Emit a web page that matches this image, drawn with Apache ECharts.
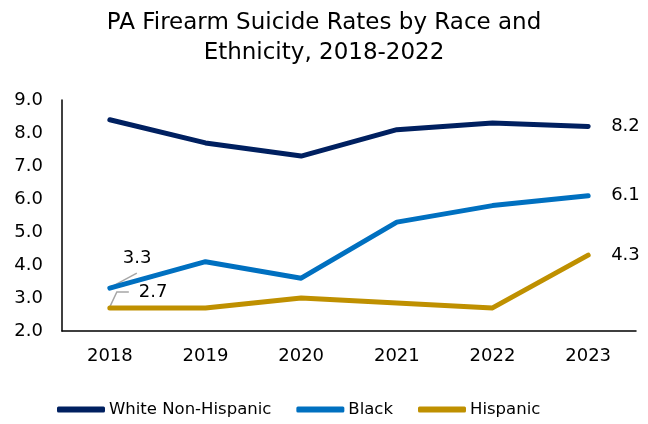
<!DOCTYPE html>
<html>
<head>
<meta charset="utf-8">
<script src="https://cdn.jsdelivr.net/npm/echarts@6/dist/echarts.min.js"></script>
<style>
  html, body { margin: 0; padding: 0; background: #fff; }
  #chart { width: 648px; height: 424px; }
</style>
</head>
<body>
<div id="chart"></div>
<script>
// Firearm suicide rates per 100k, Pennsylvania, by race/ethnicity
const years = ['2018', '2019', '2020', '2021', '2022', '2023'];
const whiteNonHispanic = [8.4, 7.7, 7.3, 8.1, 8.3, 8.2];
const black = [3.3, 4.1, 3.6, 5.3, 5.8, 6.1];
const hispanic = [2.7, 2.7, 3.0, 2.85, 2.7, 4.3];
const yTicks = { min: 2, max: 9, interval: 1 };

const FONT = 'DejaVu Sans';
const colors = { white: '#002060', black: '#0070C0', hispanic: '#BF9000' };

const chart = echarts.init(document.getElementById('chart'), null, { renderer: 'canvas' });

// Label the last point on the right; optionally the first point, nudged away from the line
function withLabels(values, lead) {
  return values.map((v, i) => {
    const item = { value: v };
    if (i === values.length - 1) {
      item.label = { show: true, position: 'right', distance: 23, formatter: v.toFixed(1) };
    } else if (i === 0 && lead) {
      item.label = { show: true, position: 'right', distance: 0, formatter: v.toFixed(1) };
    }
    return item;
  });
}

function lineSeries(name, values, color, lead) {
  return {
    name,
    type: 'line',
    data: withLabels(values, lead),
    symbol: 'circle',
    symbolSize: 0.01,
    showSymbol: true,
    lineStyle: { color, width: 5, cap: 'round', join: 'round' },
    itemStyle: { color },
    label: { color: '#000', fontFamily: FONT, fontSize: 18 },
    labelLayout: lead ? (p => (p.dataIndex === 0 ? { dx: lead.dx, dy: lead.dy } : {})) : undefined,
    emphasis: { disabled: true },
    animation: false
  };
}

// Leader-line paths, as pixel offsets from the labelled point
const leaders = [
  { seriesIndex: 1, values: black, path: [[1, -1], [27, -15]] },
  { seriesIndex: 2, values: hispanic, path: [[0, -1], [7, -16], [19, -16]] }
];

chart.setOption({
  animation: false,
  title: {
    text: 'PA Firearm Suicide Rates by Race and\nEthnicity, 2018-2022',
    left: 'center',
    top: 3,
    textStyle: { fontFamily: FONT, fontSize: 23, fontWeight: 'normal', color: '#000', lineHeight: 30 }
  },
  legend: {
    top: 396,
    left: 52,
    itemWidth: 48,
    itemHeight: 6,
    itemGap: 25,
    icon: 'roundRect',
    textStyle: { fontFamily: FONT, fontSize: 16.5, color: '#000', padding: [0, 0, 0, -1] },
    data: ['White Non-Hispanic', 'Black', 'Hispanic']
  },
  grid: { left: 62, right: 12, top: 100, bottom: 93, containLabel: false },
  xAxis: {
    type: 'category',
    data: years,
    boundaryGap: true,
    axisLine: { lineStyle: { color: '#000', width: 1.5 } },
    axisTick: { show: false },
    axisLabel: { fontFamily: FONT, fontSize: 18, color: '#000', margin: 16 }
  },
  yAxis: {
    type: 'value',
    min: yTicks.min,
    max: yTicks.max,
    interval: yTicks.interval,
    axisLine: { show: true, lineStyle: { color: '#000', width: 1.5 } },
    axisTick: { show: false },
    splitLine: { show: false },
    axisLabel: { fontFamily: FONT, fontSize: 18, color: '#000', margin: 19, formatter: v => v.toFixed(1) }
  },
  series: [
    lineSeries('White Non-Hispanic', whiteNonHispanic, colors.white),
    lineSeries('Black', black, colors.black, { dx: 13, dy: -30 }),
    lineSeries('Hispanic', hispanic, colors.hispanic, { dx: 29, dy: -16 })
  ]
});

// Grey leader lines anchored on the first data point of each series
chart.setOption({
  graphic: leaders.map(l => {
    const p = chart.convertToPixel({ seriesIndex: l.seriesIndex }, [0, l.values[0]]);
    return {
      type: 'polyline',
      silent: true,
      z: 1,
      shape: { points: l.path.map(o => [p[0] + o[0], p[1] + o[1]]) },
      style: { stroke: '#a6a6a6', lineWidth: 1.5, fill: null }
    };
  })
});
</script>
</body>
</html>
